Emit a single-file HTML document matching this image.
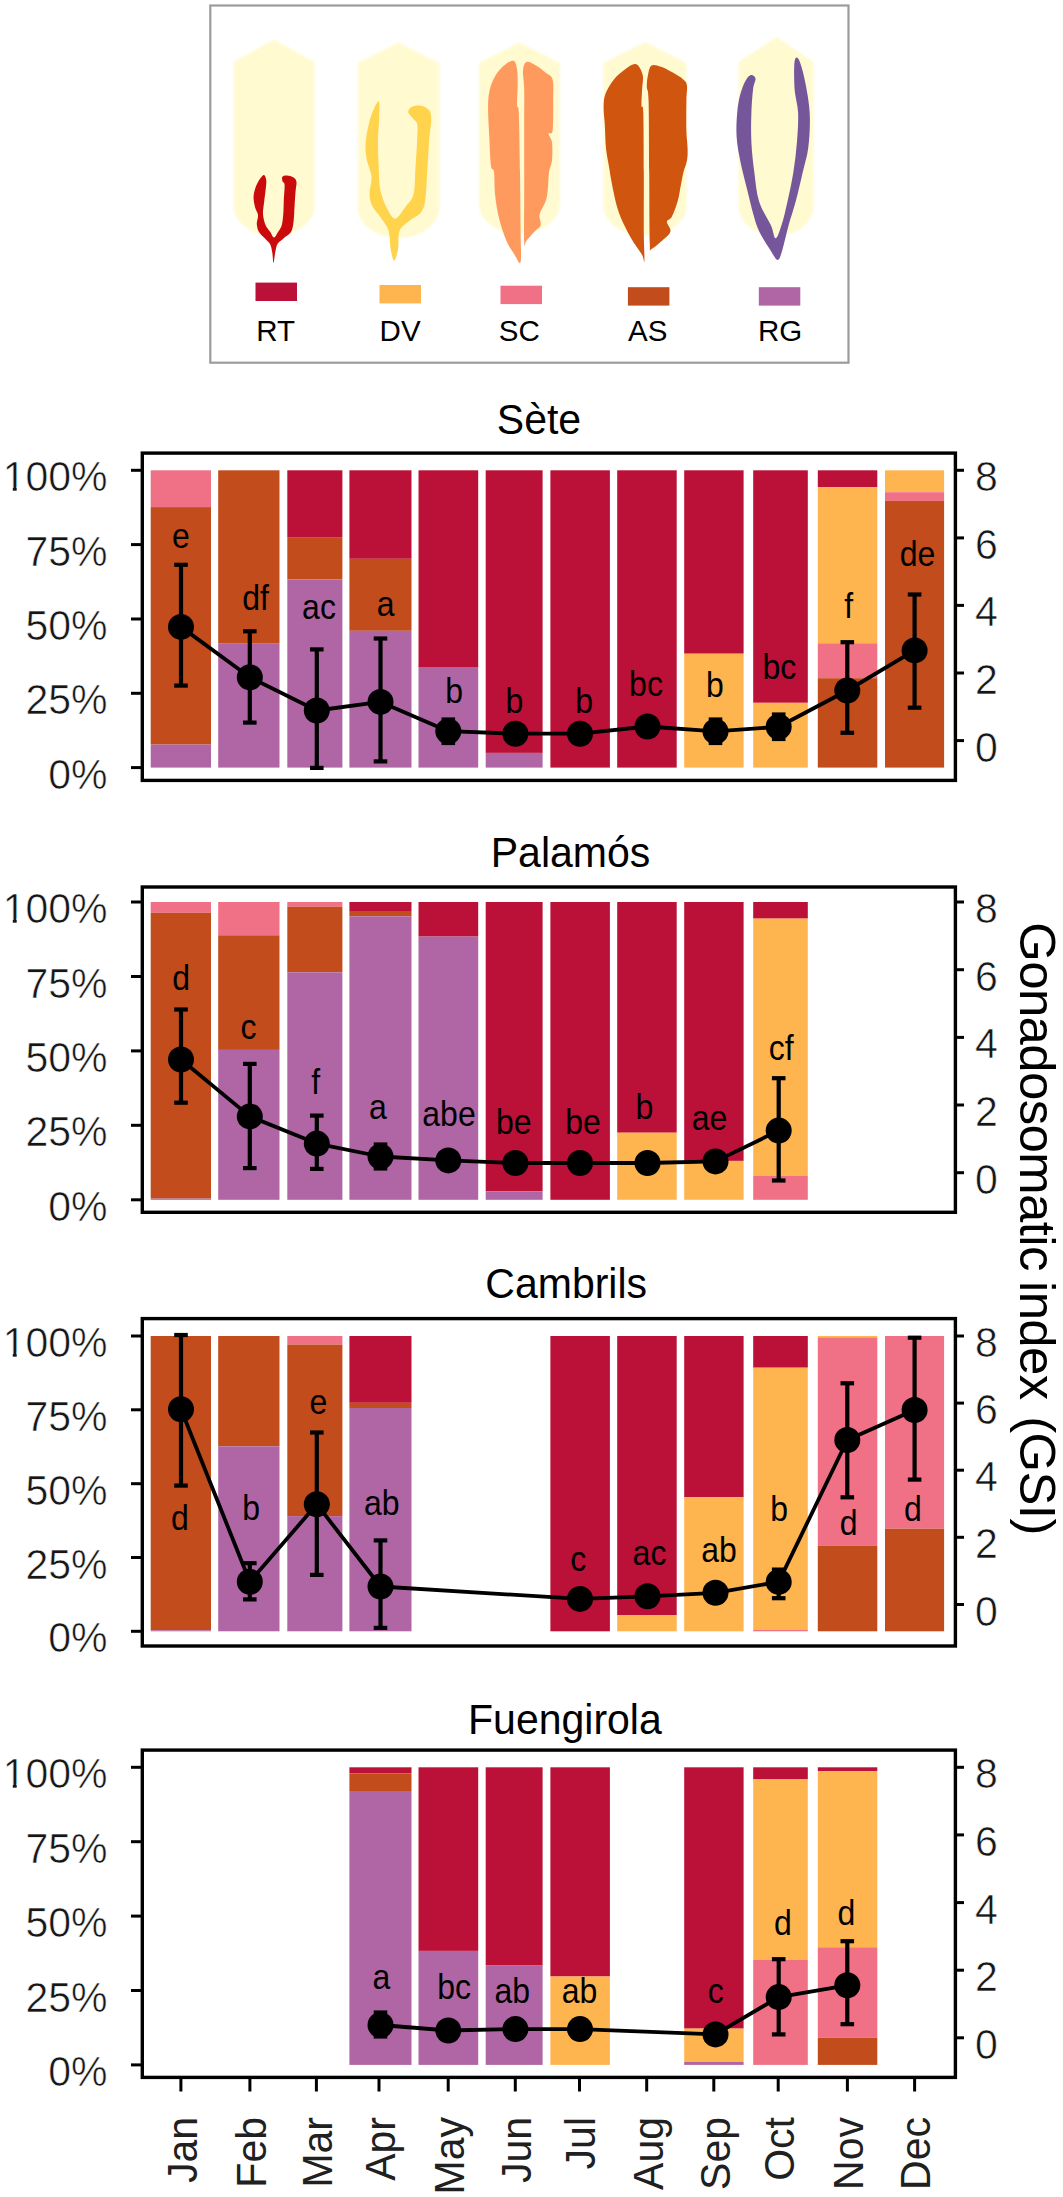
<!DOCTYPE html>
<html><head><meta charset="utf-8"><style>
html,body{margin:0;padding:0;background:#fff;}
svg{display:block;}
text{font-family:"Liberation Sans", sans-serif;}
.tk{fill:#161616;stroke:#fff;stroke-width:0.55px;}
.xl{fill:#202020;}
</style></head><body>
<svg width="1063" height="2197" viewBox="0 0 1063 2197">
<defs><filter id="soft" x="-10%" y="-10%" width="120%" height="120%"><feGaussianBlur stdDeviation="1.2"/></filter></defs>

<rect x="210.3" y="5.5" width="638.2" height="357.2" fill="#fff" stroke="#9c9c9c" stroke-width="2.2"/>
<g filter="url(#soft)">
<path d="M273.8 39.5 L314.5 62 L314.5 206 C314.5 222 296.185 236 273.8 236 C251.635 236 233.5 222 233.5 206 L233.5 62 Z" fill="#FFFAD0"/>
<path d="M398.6 42.5 L439.4 63 L439.4 208 C439.4 224 421.04 238 398.6 238 C376.16 238 357.8 224 357.8 208 L357.8 63 Z" fill="#FFFAD0"/>
<path d="M519.5 42.5 L559.7 63 L559.7 204 C559.7 220 541.61 234 519.5 234 C497.225 234 479.0 220 479.0 204 L479.0 63 Z" fill="#FFFAD0"/>
<path d="M645.3 42.0 L686.5 63 L686.5 206 C686.5 222 667.96 236 645.3 236 C622.31 236 603.5 222 603.5 206 L603.5 63 Z" fill="#FFFAD0"/>
<path d="M776.8 37.0 L813.5 62 L813.5 206 C813.5 222 796.985 236 776.8 236 C755.735 236 738.5 222 738.5 206 L738.5 62 Z" fill="#FFFAD0"/>
</g>
<path d="M263.5 175.0 C262.0 175.7 258.6 180.5 257.0 184.0 C255.3 187.5 253.9 192.2 253.6 196.0 C253.3 199.8 254.3 203.8 255.0 207.0 C255.7 210.2 257.7 212.2 258.0 215.0 C258.3 217.8 256.6 221.2 256.8 224.0 C257.0 226.8 257.6 229.6 259.0 232.0 C260.4 234.4 263.2 236.5 265.0 238.5 C266.8 240.5 268.8 241.8 270.0 244.0 C271.2 246.2 271.6 248.8 272.2 252.0 C272.8 255.2 273.0 263.0 273.5 263.0 C274.0 263.0 274.6 255.2 275.3 252.0 C276.0 248.8 276.1 246.3 277.5 244.0 C278.9 241.7 281.8 240.0 284.0 238.0 C286.2 236.0 289.4 234.7 291.0 232.0 C292.6 229.3 292.9 226.2 293.5 222.0 C294.1 217.8 294.2 212.0 294.5 207.0 C294.8 202.0 295.2 196.2 295.5 192.0 C295.8 187.8 296.8 184.4 296.5 182.0 C296.2 179.6 295.1 178.6 293.5 177.5 C291.9 176.4 288.9 175.7 287.0 175.6 C285.1 175.5 283.0 176.0 282.3 177.0 C281.6 178.0 282.2 180.2 282.6 181.5 C283.0 182.8 284.4 181.9 284.6 185.0 C284.8 188.1 284.0 195.0 283.8 200.0 C283.6 205.0 283.6 210.7 283.2 215.0 C282.8 219.3 282.4 223.2 281.5 226.0 C280.6 228.8 279.2 230.1 278.0 232.0 C276.8 233.9 275.3 237.5 274.0 237.5 C272.7 237.5 271.7 234.1 270.3 232.0 C268.9 229.9 266.7 228.0 265.5 225.0 C264.3 222.0 263.2 217.7 263.0 214.0 C262.8 210.3 263.6 207.0 264.0 203.0 C264.4 199.0 265.2 193.8 265.6 190.0 C266.0 186.2 266.6 182.5 266.2 180.0 C265.8 177.5 265.0 174.3 263.5 175.0 Z" fill="#CB0A0C"/>
<path d="M378.6 101.3 C377.2 101.3 373.1 109.8 371.0 116.3 C368.9 122.8 366.6 133.4 365.9 140.4 C365.1 147.4 365.6 152.5 366.5 158.5 C367.4 164.5 371.0 170.5 371.5 176.5 C372.0 182.5 369.3 189.6 369.5 194.6 C369.7 199.6 370.6 202.6 372.6 206.6 C374.6 210.6 378.9 214.7 381.6 218.7 C384.3 222.7 387.1 225.7 388.6 230.7 C390.1 235.7 389.7 243.8 390.6 248.8 C391.5 253.8 392.9 260.8 394.2 260.8 C395.4 260.8 397.2 253.8 398.1 248.8 C399.0 243.8 397.6 235.5 399.6 230.7 C401.6 225.9 406.7 223.2 410.2 220.2 C413.7 217.2 418.2 216.0 420.7 212.7 C423.2 209.4 424.1 207.6 425.2 200.6 C426.3 193.6 426.6 180.5 427.3 170.5 C428.0 160.5 428.5 148.9 429.1 140.4 C429.8 131.9 431.2 124.3 431.2 119.3 C431.2 114.3 430.9 112.5 429.1 110.3 C427.4 108.0 423.6 106.3 420.7 105.8 C417.8 105.2 413.8 105.9 411.7 107.0 C409.6 108.1 407.9 110.3 408.2 112.3 C408.5 114.3 412.0 117.0 413.5 119.0 C415.0 121.0 416.7 120.9 417.3 124.5 C417.9 128.1 417.4 132.7 417.1 140.4 C416.8 148.1 415.9 161.5 415.3 170.5 C414.7 179.5 415.1 188.6 413.5 194.6 C411.9 200.6 408.8 202.6 405.7 206.6 C402.6 210.6 398.4 218.7 395.1 218.7 C391.8 218.7 388.6 211.6 386.1 206.6 C383.6 201.6 381.4 195.6 380.1 188.6 C378.9 181.6 379.0 172.5 378.6 164.5 C378.2 156.5 377.9 148.4 378.0 140.4 C378.1 132.4 379.1 122.8 379.2 116.3 C379.3 109.8 380.0 101.3 378.6 101.3 Z" fill="#FFD44C"/>
<path d="M513.5 60.8 C511.3 60.2 506.9 63.1 504.0 65.5 C501.1 67.9 498.2 71.0 495.8 75.0 C493.4 79.0 491.2 83.9 489.9 89.2 C488.6 94.5 488.2 99.0 488.1 106.9 C488.0 114.8 488.8 126.6 489.3 136.5 C489.8 146.4 490.2 160.2 491.0 166.1 C491.8 172.0 493.3 167.1 494.0 172.0 C494.7 176.9 494.3 187.8 495.2 195.7 C496.1 203.6 497.4 211.8 499.3 219.3 C501.2 226.8 503.8 234.8 506.4 240.7 C509.0 246.6 512.3 251.3 514.7 254.9 C517.1 258.4 519.6 265.9 520.6 262.0 C521.6 258.1 520.7 246.2 520.6 231.2 C520.5 216.2 520.3 191.7 520.0 172.0 C519.7 152.3 519.3 123.8 518.8 112.8 C518.3 101.8 517.3 110.6 517.1 105.7 C516.9 100.8 517.7 89.4 517.7 83.3 C517.7 77.2 517.7 72.8 517.0 69.0 C516.3 65.2 515.7 61.4 513.5 60.8 Z" fill="#FF9A5E"/>
<path d="M526.5 62.0 C528.7 61.2 532.8 63.7 536.0 65.5 C539.2 67.3 542.7 70.2 545.5 72.6 C548.3 75.0 551.3 75.0 552.6 79.7 C553.9 84.4 553.2 92.5 553.2 101.0 C553.2 109.5 553.4 125.2 552.6 130.6 C551.8 136.0 548.6 131.5 548.5 133.5 C548.4 135.5 551.4 138.0 552.0 142.4 C552.6 146.8 552.5 155.3 552.0 160.2 C551.5 165.1 549.7 167.1 549.0 172.0 C548.3 176.9 548.4 184.9 547.8 189.8 C547.2 194.7 546.9 197.5 545.5 201.6 C544.1 205.7 540.4 210.6 539.6 214.6 C538.8 218.6 541.5 222.5 540.7 225.3 C539.9 228.1 537.2 228.6 534.8 231.2 C532.4 233.8 528.3 238.7 526.5 240.7 C524.7 242.7 524.6 250.5 524.2 243.0 C523.8 235.5 524.2 215.4 524.2 195.7 C524.2 176.0 524.2 142.4 524.2 124.7 C524.2 107.0 524.4 98.3 524.2 89.2 C524.0 80.1 522.6 74.7 523.0 70.2 C523.4 65.7 524.3 62.8 526.5 62.0 Z" fill="#FF9A5E"/>
<path d="M636.2 64.3 C633.3 63.3 629.2 66.4 625.5 69.0 C621.8 71.6 617.1 75.5 613.7 79.7 C610.4 83.9 607.1 89.4 605.4 93.9 C603.7 98.4 603.7 101.8 603.6 106.9 C603.5 112.0 604.4 117.8 604.8 124.7 C605.2 131.6 605.3 141.4 606.0 148.3 C606.7 155.2 607.9 160.2 608.9 166.1 C609.9 172.0 610.5 176.9 611.9 183.8 C613.3 190.7 615.1 200.6 617.2 207.5 C619.3 214.4 621.7 219.8 624.3 225.3 C626.9 230.8 629.6 235.8 632.6 240.7 C635.6 245.6 640.1 251.6 642.1 254.9 C644.1 258.2 644.1 264.8 644.4 260.8 C644.7 256.9 643.9 246.0 643.8 231.2 C643.7 216.4 643.9 191.7 643.8 172.0 C643.7 152.3 643.7 123.8 643.3 112.8 C642.9 101.8 641.7 109.6 641.5 105.7 C641.3 101.8 641.9 94.3 642.1 89.2 C642.3 84.1 643.7 79.2 642.7 75.0 C641.7 70.8 639.1 65.3 636.2 64.3 Z" fill="#D0560F"/>
<path d="M651.5 65.5 C653.7 64.1 657.5 65.5 661.0 66.7 C664.5 67.9 669.0 70.4 672.8 72.6 C676.5 74.8 681.1 77.5 683.5 79.7 C685.9 81.9 686.5 82.0 687.0 85.6 C687.5 89.1 686.5 93.5 686.4 101.0 C686.3 108.5 686.2 122.7 686.4 130.6 C686.6 138.5 687.5 143.4 687.6 148.3 C687.7 153.2 687.7 156.2 687.0 160.2 C686.3 164.1 684.5 168.1 683.5 172.0 C682.5 175.9 682.1 178.9 681.1 183.8 C680.1 188.7 679.2 196.1 677.6 201.6 C676.0 207.1 673.5 213.7 671.7 217.0 C669.9 220.3 667.1 219.3 666.9 221.7 C666.7 224.1 671.1 228.2 670.5 231.2 C669.9 234.2 666.6 236.6 663.4 239.5 C660.2 242.4 653.8 248.3 651.5 248.9 C649.2 249.5 650.2 255.8 649.8 243.0 C649.4 230.2 649.4 195.7 649.2 172.0 C649.0 148.3 649.0 115.2 648.6 101.0 C648.2 86.8 646.9 91.1 646.8 86.8 C646.7 82.5 647.2 78.5 648.0 75.0 C648.8 71.5 649.3 66.9 651.5 65.5 Z" fill="#D0560F"/>
<path d="M750.8 75.0 C749.1 75.4 747.2 77.6 745.4 80.9 C743.6 84.2 741.5 89.8 740.1 95.1 C738.7 100.4 737.8 105.9 737.2 112.8 C736.6 119.7 736.1 128.6 736.6 136.5 C737.1 144.4 738.3 151.3 740.1 160.2 C741.9 169.1 745.0 180.9 747.2 189.8 C749.4 198.7 751.1 206.5 753.1 213.4 C755.1 220.3 756.2 225.0 759.1 231.2 C762.0 237.4 767.5 245.7 770.6 250.5 C773.7 255.3 775.7 260.0 777.6 260.0 C779.5 260.0 780.4 256.3 782.2 250.5 C784.0 244.7 786.4 233.5 788.6 225.3 C790.9 217.2 793.3 210.5 795.7 201.6 C798.1 192.7 800.7 180.9 802.8 172.0 C804.9 163.1 807.0 157.2 808.2 148.3 C809.4 139.4 810.0 127.7 809.9 118.8 C809.8 109.9 808.8 103.0 807.6 95.1 C806.4 87.2 804.4 77.5 802.8 71.4 C801.2 65.3 799.5 60.0 798.1 58.4 C796.7 56.8 795.1 56.9 794.5 62.0 C793.9 67.1 794.0 80.7 794.6 89.2 C795.2 97.7 797.7 103.9 798.1 112.8 C798.5 121.7 797.7 132.5 796.9 142.4 C796.1 152.3 795.0 162.1 793.4 172.0 C791.8 181.9 789.5 192.7 787.5 201.6 C785.5 210.5 783.5 219.2 781.5 225.3 C779.5 231.4 777.4 238.3 775.6 238.3 C773.8 238.3 773.6 231.4 770.9 225.3 C768.1 219.2 761.9 210.5 759.1 201.6 C756.3 192.7 755.6 181.9 754.3 172.0 C753.0 162.1 751.9 152.3 751.4 142.4 C750.9 132.5 751.1 121.7 751.4 112.8 C751.7 103.9 752.4 94.9 753.1 89.2 C753.8 83.5 755.9 80.9 755.5 78.5 C755.1 76.1 752.5 74.6 750.8 75.0 Z" fill="#76569B"/>
<rect x="255.5" y="282.6" width="41.5" height="18.4" fill="#BB1037"/>
<rect x="379.5" y="285.0" width="41.5" height="18.4" fill="#FFB54F"/>
<rect x="500.5" y="285.7" width="41.5" height="18.4" fill="#F07186"/>
<rect x="627.9" y="287.2" width="41.5" height="18.4" fill="#C24C1B"/>
<rect x="758.8" y="287.2" width="41.5" height="18.4" fill="#B066A5"/>
<text x="275.7" y="341.2" font-size="29.5" text-anchor="middle" fill="#000">RT</text>
<text x="400.1" y="341.2" font-size="29.5" text-anchor="middle" fill="#000">DV</text>
<text x="519.3" y="341.2" font-size="29.5" text-anchor="middle" fill="#000">SC</text>
<text x="647.7" y="341.2" font-size="29.5" text-anchor="middle" fill="#000">AS</text>
<text x="780.0" y="341.2" font-size="29.5" text-anchor="middle" fill="#000">RG</text>
<text transform="translate(539.0,434.3) scale(1,1.03)" font-size="41" text-anchor="middle" fill="#000">Sète</text>
<rect x="150.7" y="470.3" width="60.3" height="36.8" fill="#F07186"/>
<rect x="150.7" y="507.1" width="60.3" height="237.5" fill="#C24C1B"/>
<rect x="150.7" y="744.6" width="60.3" height="23.0" fill="#B066A5"/>
<rect x="218.2" y="470.3" width="61.3" height="173.4" fill="#C24C1B"/>
<rect x="218.2" y="643.7" width="61.3" height="123.9" fill="#B066A5"/>
<rect x="287.3" y="470.3" width="55.1" height="66.8" fill="#BB1037"/>
<rect x="287.3" y="537.1" width="55.1" height="42.4" fill="#C24C1B"/>
<rect x="287.3" y="579.5" width="55.1" height="188.1" fill="#B066A5"/>
<rect x="349.4" y="470.3" width="62.1" height="88.5" fill="#BB1037"/>
<rect x="349.4" y="558.8" width="62.1" height="72.0" fill="#C24C1B"/>
<rect x="349.4" y="630.8" width="62.1" height="136.8" fill="#B066A5"/>
<rect x="418.5" y="470.3" width="59.7" height="196.7" fill="#BB1037"/>
<rect x="418.5" y="667.0" width="59.7" height="100.6" fill="#B066A5"/>
<rect x="485.7" y="470.3" width="56.9" height="282.6" fill="#BB1037"/>
<rect x="485.7" y="752.9" width="56.9" height="14.7" fill="#B066A5"/>
<rect x="550.4" y="470.3" width="59.5" height="297.3" fill="#BB1037"/>
<rect x="617.2" y="470.3" width="59.5" height="297.3" fill="#BB1037"/>
<rect x="684.2" y="470.3" width="59.4" height="183.4" fill="#BB1037"/>
<rect x="684.2" y="653.7" width="59.4" height="113.9" fill="#FFB54F"/>
<rect x="753.2" y="470.3" width="54.6" height="232.5" fill="#BB1037"/>
<rect x="753.2" y="702.8" width="54.6" height="64.8" fill="#FFB54F"/>
<rect x="817.8" y="470.3" width="59.5" height="17.0" fill="#BB1037"/>
<rect x="817.8" y="487.3" width="59.5" height="156.0" fill="#FFB54F"/>
<rect x="817.8" y="643.3" width="59.5" height="34.9" fill="#F07186"/>
<rect x="817.8" y="678.2" width="59.5" height="89.4" fill="#C24C1B"/>
<rect x="885.0" y="470.3" width="59.1" height="21.9" fill="#FFB54F"/>
<rect x="885.0" y="492.2" width="59.1" height="8.7" fill="#F07186"/>
<rect x="885.0" y="500.9" width="59.1" height="266.7" fill="#C24C1B"/>
<rect x="142.3" y="453.1" width="813.1" height="327.3" fill="none" stroke="#000" stroke-width="3.4"/>
<line x1="131" y1="470.3" x2="142.3" y2="470.3" stroke="#000" stroke-width="3"/>
<text transform="translate(107.5,491.3) scale(1,1.055)" class="tk" font-size="41" text-anchor="end">100%</text>
<rect x="4.5" y="486.9" width="8.3" height="5.4" fill="#fff"/>
<rect x="16.7" y="486.9" width="8" height="5.4" fill="#fff"/>
<line x1="131" y1="544.6" x2="142.3" y2="544.6" stroke="#000" stroke-width="3"/>
<text transform="translate(107.5,565.6) scale(1,1.055)" class="tk" font-size="41" text-anchor="end">75%</text>
<line x1="131" y1="619.0" x2="142.3" y2="619.0" stroke="#000" stroke-width="3"/>
<text transform="translate(107.5,640.0) scale(1,1.055)" class="tk" font-size="41" text-anchor="end">50%</text>
<line x1="131" y1="693.3" x2="142.3" y2="693.3" stroke="#000" stroke-width="3"/>
<text transform="translate(107.5,714.3) scale(1,1.055)" class="tk" font-size="41" text-anchor="end">25%</text>
<line x1="131" y1="767.6" x2="142.3" y2="767.6" stroke="#000" stroke-width="3"/>
<text transform="translate(107.5,788.6) scale(1,1.055)" class="tk" font-size="41" text-anchor="end">0%</text>
<line x1="955.4" y1="470.3" x2="964" y2="470.3" stroke="#000" stroke-width="3"/>
<text transform="translate(975,491.3) scale(1,1.055)" class="tk" font-size="41">8</text>
<line x1="955.4" y1="537.9" x2="964" y2="537.9" stroke="#000" stroke-width="3"/>
<text transform="translate(975,558.9) scale(1,1.055)" class="tk" font-size="41">6</text>
<line x1="955.4" y1="605.4" x2="964" y2="605.4" stroke="#000" stroke-width="3"/>
<text transform="translate(975,626.4) scale(1,1.055)" class="tk" font-size="41">4</text>
<line x1="955.4" y1="673.0" x2="964" y2="673.0" stroke="#000" stroke-width="3"/>
<text transform="translate(975,694.0) scale(1,1.055)" class="tk" font-size="41">2</text>
<line x1="955.4" y1="740.6" x2="964" y2="740.6" stroke="#000" stroke-width="3"/>
<text transform="translate(975,761.6) scale(1,1.055)" class="tk" font-size="41">0</text>
<text transform="translate(181.0,547.5) scale(1,1.08)" font-size="32" text-anchor="middle" fill="#000">e</text>
<text transform="translate(255.6,609.6) scale(1,1.08)" font-size="32" text-anchor="middle" fill="#000">df</text>
<text transform="translate(319.0,618.6) scale(1,1.08)" font-size="32" text-anchor="middle" fill="#000">ac</text>
<text transform="translate(385.6,616.0) scale(1,1.08)" font-size="32" text-anchor="middle" fill="#000">a</text>
<text transform="translate(454.2,702.7) scale(1,1.08)" font-size="32" text-anchor="middle" fill="#000">b</text>
<text transform="translate(514.3,713.1) scale(1,1.08)" font-size="32" text-anchor="middle" fill="#000">b</text>
<text transform="translate(584.1,713.1) scale(1,1.08)" font-size="32" text-anchor="middle" fill="#000">b</text>
<text transform="translate(646.0,696.2) scale(1,1.08)" font-size="32" text-anchor="middle" fill="#000">bc</text>
<text transform="translate(715.0,696.8) scale(1,1.08)" font-size="32" text-anchor="middle" fill="#000">b</text>
<text transform="translate(779.4,679.0) scale(1,1.08)" font-size="32" text-anchor="middle" fill="#000">bc</text>
<text transform="translate(848.7,617.6) scale(1,1.08)" font-size="32" text-anchor="middle" fill="#000">f</text>
<text transform="translate(917.6,565.8) scale(1,1.08)" font-size="32" text-anchor="middle" fill="#000">de</text>
<polyline points="181.0,626.9 249.8,677.3 316.8,710.5 380.5,701.9 448.3,731.2 515.4,733.7 580.0,733.7 647.5,726.5 715.5,731.4 778.7,726.8 847.3,690.5 914.6,650.4" fill="none" stroke="#000" stroke-width="3.8" stroke-linejoin="round"/>
<line x1="181.0" y1="564.8" x2="181.0" y2="685.6" stroke="#000" stroke-width="4.2"/>
<line x1="174.2" y1="564.8" x2="187.8" y2="564.8" stroke="#000" stroke-width="4.2"/>
<line x1="174.2" y1="685.6" x2="187.8" y2="685.6" stroke="#000" stroke-width="4.2"/>
<circle cx="181.0" cy="626.9" r="13" fill="#000"/>
<line x1="249.8" y1="631.3" x2="249.8" y2="722.6" stroke="#000" stroke-width="4.2"/>
<line x1="243.0" y1="631.3" x2="256.6" y2="631.3" stroke="#000" stroke-width="4.2"/>
<line x1="243.0" y1="722.6" x2="256.6" y2="722.6" stroke="#000" stroke-width="4.2"/>
<circle cx="249.8" cy="677.3" r="13" fill="#000"/>
<line x1="316.8" y1="649.4" x2="316.8" y2="767.9" stroke="#000" stroke-width="4.2"/>
<line x1="310.0" y1="649.4" x2="323.6" y2="649.4" stroke="#000" stroke-width="4.2"/>
<line x1="310.0" y1="767.9" x2="323.6" y2="767.9" stroke="#000" stroke-width="4.2"/>
<circle cx="316.8" cy="710.5" r="13" fill="#000"/>
<line x1="380.5" y1="638.5" x2="380.5" y2="761.4" stroke="#000" stroke-width="4.2"/>
<line x1="373.7" y1="638.5" x2="387.3" y2="638.5" stroke="#000" stroke-width="4.2"/>
<line x1="373.7" y1="761.4" x2="387.3" y2="761.4" stroke="#000" stroke-width="4.2"/>
<circle cx="380.5" cy="701.9" r="13" fill="#000"/>
<line x1="448.3" y1="719.5" x2="448.3" y2="743.0" stroke="#000" stroke-width="4.2"/>
<line x1="441.5" y1="719.5" x2="455.1" y2="719.5" stroke="#000" stroke-width="4.2"/>
<line x1="441.5" y1="743.0" x2="455.1" y2="743.0" stroke="#000" stroke-width="4.2"/>
<circle cx="448.3" cy="731.2" r="13" fill="#000"/>
<circle cx="515.4" cy="733.7" r="13" fill="#000"/>
<circle cx="580.0" cy="733.7" r="13" fill="#000"/>
<circle cx="647.5" cy="726.5" r="13" fill="#000"/>
<line x1="715.5" y1="719.5" x2="715.5" y2="743.0" stroke="#000" stroke-width="4.2"/>
<line x1="708.7" y1="719.5" x2="722.3" y2="719.5" stroke="#000" stroke-width="4.2"/>
<line x1="708.7" y1="743.0" x2="722.3" y2="743.0" stroke="#000" stroke-width="4.2"/>
<circle cx="715.5" cy="731.4" r="13" fill="#000"/>
<line x1="778.7" y1="714.5" x2="778.7" y2="739.0" stroke="#000" stroke-width="4.2"/>
<line x1="771.9000000000001" y1="714.5" x2="785.5" y2="714.5" stroke="#000" stroke-width="4.2"/>
<line x1="771.9000000000001" y1="739.0" x2="785.5" y2="739.0" stroke="#000" stroke-width="4.2"/>
<circle cx="778.7" cy="726.8" r="13" fill="#000"/>
<line x1="847.3" y1="642.2" x2="847.3" y2="732.8" stroke="#000" stroke-width="4.2"/>
<line x1="840.5" y1="642.2" x2="854.0999999999999" y2="642.2" stroke="#000" stroke-width="4.2"/>
<line x1="840.5" y1="732.8" x2="854.0999999999999" y2="732.8" stroke="#000" stroke-width="4.2"/>
<circle cx="847.3" cy="690.5" r="13" fill="#000"/>
<line x1="914.6" y1="594.5" x2="914.6" y2="707.7" stroke="#000" stroke-width="4.2"/>
<line x1="907.8000000000001" y1="594.5" x2="921.4" y2="594.5" stroke="#000" stroke-width="4.2"/>
<line x1="907.8000000000001" y1="707.7" x2="921.4" y2="707.7" stroke="#000" stroke-width="4.2"/>
<circle cx="914.6" cy="650.4" r="13" fill="#000"/>
<text transform="translate(570.5,866.5) scale(1,1.03)" font-size="41" text-anchor="middle" fill="#000">Palamós</text>
<rect x="150.7" y="902.0" width="60.3" height="10.8" fill="#F07186"/>
<rect x="150.7" y="912.8" width="60.3" height="285.8" fill="#C24C1B"/>
<rect x="150.7" y="1198.6" width="60.3" height="1.2" fill="#B066A5"/>
<rect x="218.2" y="902.0" width="61.3" height="33.3" fill="#F07186"/>
<rect x="218.2" y="935.3" width="61.3" height="114.6" fill="#C24C1B"/>
<rect x="218.2" y="1049.9" width="61.3" height="149.9" fill="#B066A5"/>
<rect x="287.3" y="902.0" width="55.1" height="4.8" fill="#F07186"/>
<rect x="287.3" y="906.8" width="55.1" height="65.5" fill="#C24C1B"/>
<rect x="287.3" y="972.3" width="55.1" height="227.5" fill="#B066A5"/>
<rect x="349.4" y="902.0" width="62.1" height="9.0" fill="#BB1037"/>
<rect x="349.4" y="911.0" width="62.1" height="5.3" fill="#C24C1B"/>
<rect x="349.4" y="916.3" width="62.1" height="283.5" fill="#B066A5"/>
<rect x="418.5" y="902.0" width="59.7" height="34.6" fill="#BB1037"/>
<rect x="418.5" y="936.6" width="59.7" height="263.2" fill="#B066A5"/>
<rect x="485.7" y="902.0" width="56.9" height="289.4" fill="#BB1037"/>
<rect x="485.7" y="1191.4" width="56.9" height="8.4" fill="#B066A5"/>
<rect x="550.4" y="902.0" width="59.5" height="297.8" fill="#BB1037"/>
<rect x="617.2" y="902.0" width="59.5" height="230.7" fill="#BB1037"/>
<rect x="617.2" y="1132.7" width="59.5" height="67.1" fill="#FFB54F"/>
<rect x="684.2" y="902.0" width="59.4" height="258.9" fill="#BB1037"/>
<rect x="684.2" y="1160.9" width="59.4" height="38.9" fill="#FFB54F"/>
<rect x="753.2" y="902.0" width="54.6" height="16.6" fill="#BB1037"/>
<rect x="753.2" y="918.6" width="54.6" height="257.3" fill="#FFB54F"/>
<rect x="753.2" y="1175.9" width="54.6" height="23.9" fill="#F07186"/>
<rect x="142.3" y="887.0" width="813.1" height="325.3" fill="none" stroke="#000" stroke-width="3.4"/>
<line x1="131" y1="902.0" x2="142.3" y2="902.0" stroke="#000" stroke-width="3"/>
<text transform="translate(107.5,923.0) scale(1,1.055)" class="tk" font-size="41" text-anchor="end">100%</text>
<rect x="4.5" y="918.6" width="8.3" height="5.4" fill="#fff"/>
<rect x="16.7" y="918.6" width="8" height="5.4" fill="#fff"/>
<line x1="131" y1="976.5" x2="142.3" y2="976.5" stroke="#000" stroke-width="3"/>
<text transform="translate(107.5,997.5) scale(1,1.055)" class="tk" font-size="41" text-anchor="end">75%</text>
<line x1="131" y1="1050.9" x2="142.3" y2="1050.9" stroke="#000" stroke-width="3"/>
<text transform="translate(107.5,1071.9) scale(1,1.055)" class="tk" font-size="41" text-anchor="end">50%</text>
<line x1="131" y1="1125.3" x2="142.3" y2="1125.3" stroke="#000" stroke-width="3"/>
<text transform="translate(107.5,1146.3) scale(1,1.055)" class="tk" font-size="41" text-anchor="end">25%</text>
<line x1="131" y1="1199.8" x2="142.3" y2="1199.8" stroke="#000" stroke-width="3"/>
<text transform="translate(107.5,1220.8) scale(1,1.055)" class="tk" font-size="41" text-anchor="end">0%</text>
<line x1="955.4" y1="902.0" x2="964" y2="902.0" stroke="#000" stroke-width="3"/>
<text transform="translate(975,923.0) scale(1,1.055)" class="tk" font-size="41">8</text>
<line x1="955.4" y1="969.7" x2="964" y2="969.7" stroke="#000" stroke-width="3"/>
<text transform="translate(975,990.7) scale(1,1.055)" class="tk" font-size="41">6</text>
<line x1="955.4" y1="1037.4" x2="964" y2="1037.4" stroke="#000" stroke-width="3"/>
<text transform="translate(975,1058.4) scale(1,1.055)" class="tk" font-size="41">4</text>
<line x1="955.4" y1="1105.0" x2="964" y2="1105.0" stroke="#000" stroke-width="3"/>
<text transform="translate(975,1126.0) scale(1,1.055)" class="tk" font-size="41">2</text>
<line x1="955.4" y1="1172.7" x2="964" y2="1172.7" stroke="#000" stroke-width="3"/>
<text transform="translate(975,1193.7) scale(1,1.055)" class="tk" font-size="41">0</text>
<text transform="translate(181.2,990.4) scale(1,1.08)" font-size="32" text-anchor="middle" fill="#000">d</text>
<text transform="translate(248.5,1038.8) scale(1,1.08)" font-size="32" text-anchor="middle" fill="#000">c</text>
<text transform="translate(315.8,1093.9) scale(1,1.08)" font-size="32" text-anchor="middle" fill="#000">f</text>
<text transform="translate(377.9,1118.5) scale(1,1.08)" font-size="32" text-anchor="middle" fill="#000">a</text>
<text transform="translate(449.0,1126.2) scale(1,1.08)" font-size="32" text-anchor="middle" fill="#000">abe</text>
<text transform="translate(513.7,1134.0) scale(1,1.08)" font-size="32" text-anchor="middle" fill="#000">be</text>
<text transform="translate(583.0,1133.8) scale(1,1.08)" font-size="32" text-anchor="middle" fill="#000">be</text>
<text transform="translate(644.3,1118.5) scale(1,1.08)" font-size="32" text-anchor="middle" fill="#000">b</text>
<text transform="translate(709.6,1129.5) scale(1,1.08)" font-size="32" text-anchor="middle" fill="#000">ae</text>
<text transform="translate(781.3,1059.9) scale(1,1.08)" font-size="32" text-anchor="middle" fill="#000">cf</text>
<polyline points="181.0,1059.5 249.8,1116.4 316.8,1143.6 380.5,1156.5 448.3,1160.4 515.4,1163.0 580.0,1163.0 647.5,1163.0 715.5,1161.4 778.7,1130.6" fill="none" stroke="#000" stroke-width="3.8" stroke-linejoin="round"/>
<line x1="181.0" y1="1009.5" x2="181.0" y2="1102.7" stroke="#000" stroke-width="4.2"/>
<line x1="174.2" y1="1009.5" x2="187.8" y2="1009.5" stroke="#000" stroke-width="4.2"/>
<line x1="174.2" y1="1102.7" x2="187.8" y2="1102.7" stroke="#000" stroke-width="4.2"/>
<circle cx="181.0" cy="1059.5" r="13" fill="#000"/>
<line x1="249.8" y1="1063.9" x2="249.8" y2="1168.1" stroke="#000" stroke-width="4.2"/>
<line x1="243.0" y1="1063.9" x2="256.6" y2="1063.9" stroke="#000" stroke-width="4.2"/>
<line x1="243.0" y1="1168.1" x2="256.6" y2="1168.1" stroke="#000" stroke-width="4.2"/>
<circle cx="249.8" cy="1116.4" r="13" fill="#000"/>
<line x1="316.8" y1="1115.6" x2="316.8" y2="1168.9" stroke="#000" stroke-width="4.2"/>
<line x1="310.0" y1="1115.6" x2="323.6" y2="1115.6" stroke="#000" stroke-width="4.2"/>
<line x1="310.0" y1="1168.9" x2="323.6" y2="1168.9" stroke="#000" stroke-width="4.2"/>
<circle cx="316.8" cy="1143.6" r="13" fill="#000"/>
<line x1="380.5" y1="1144.5" x2="380.5" y2="1168.5" stroke="#000" stroke-width="4.2"/>
<line x1="373.7" y1="1144.5" x2="387.3" y2="1144.5" stroke="#000" stroke-width="4.2"/>
<line x1="373.7" y1="1168.5" x2="387.3" y2="1168.5" stroke="#000" stroke-width="4.2"/>
<circle cx="380.5" cy="1156.5" r="13" fill="#000"/>
<circle cx="448.3" cy="1160.4" r="13" fill="#000"/>
<circle cx="515.4" cy="1163.0" r="13" fill="#000"/>
<circle cx="580.0" cy="1163.0" r="13" fill="#000"/>
<circle cx="647.5" cy="1163.0" r="13" fill="#000"/>
<circle cx="715.5" cy="1161.4" r="13" fill="#000"/>
<line x1="778.7" y1="1078.2" x2="778.7" y2="1180.5" stroke="#000" stroke-width="4.2"/>
<line x1="771.9000000000001" y1="1078.2" x2="785.5" y2="1078.2" stroke="#000" stroke-width="4.2"/>
<line x1="771.9000000000001" y1="1180.5" x2="785.5" y2="1180.5" stroke="#000" stroke-width="4.2"/>
<circle cx="778.7" cy="1130.6" r="13" fill="#000"/>
<text transform="translate(566.2,1297.5) scale(1,1.03)" font-size="41" text-anchor="middle" fill="#000">Cambrils</text>
<rect x="150.7" y="1336.0" width="60.3" height="294.3" fill="#C24C1B"/>
<rect x="150.7" y="1630.3" width="60.3" height="1.0" fill="#B066A5"/>
<rect x="218.2" y="1336.0" width="61.3" height="110.3" fill="#C24C1B"/>
<rect x="218.2" y="1446.3" width="61.3" height="185.0" fill="#B066A5"/>
<rect x="287.3" y="1336.0" width="55.1" height="8.6" fill="#F07186"/>
<rect x="287.3" y="1344.6" width="55.1" height="171.5" fill="#C24C1B"/>
<rect x="287.3" y="1516.1" width="55.1" height="115.2" fill="#B066A5"/>
<rect x="349.4" y="1336.0" width="62.1" height="66.8" fill="#BB1037"/>
<rect x="349.4" y="1402.8" width="62.1" height="5.2" fill="#C24C1B"/>
<rect x="349.4" y="1408.0" width="62.1" height="223.3" fill="#B066A5"/>
<rect x="550.4" y="1336.0" width="59.5" height="295.3" fill="#BB1037"/>
<rect x="617.2" y="1336.0" width="59.5" height="279.0" fill="#BB1037"/>
<rect x="617.2" y="1615.0" width="59.5" height="16.3" fill="#FFB54F"/>
<rect x="684.2" y="1336.0" width="59.4" height="161.3" fill="#BB1037"/>
<rect x="684.2" y="1497.3" width="59.4" height="134.0" fill="#FFB54F"/>
<rect x="753.2" y="1336.0" width="54.6" height="31.7" fill="#BB1037"/>
<rect x="753.2" y="1367.7" width="54.6" height="262.1" fill="#FFB54F"/>
<rect x="753.2" y="1629.8" width="54.6" height="1.5" fill="#F07186"/>
<rect x="817.8" y="1336.0" width="59.5" height="1.4" fill="#FFB54F"/>
<rect x="817.8" y="1337.4" width="59.5" height="208.5" fill="#F07186"/>
<rect x="817.8" y="1545.9" width="59.5" height="85.4" fill="#C24C1B"/>
<rect x="885.0" y="1336.0" width="59.1" height="192.7" fill="#F07186"/>
<rect x="885.0" y="1528.7" width="59.1" height="102.6" fill="#C24C1B"/>
<rect x="142.3" y="1318.6" width="813.1" height="327.4" fill="none" stroke="#000" stroke-width="3.4"/>
<line x1="131" y1="1336.0" x2="142.3" y2="1336.0" stroke="#000" stroke-width="3"/>
<text transform="translate(107.5,1357.0) scale(1,1.055)" class="tk" font-size="41" text-anchor="end">100%</text>
<rect x="4.5" y="1352.6" width="8.3" height="5.4" fill="#fff"/>
<rect x="16.7" y="1352.6" width="8" height="5.4" fill="#fff"/>
<line x1="131" y1="1409.8" x2="142.3" y2="1409.8" stroke="#000" stroke-width="3"/>
<text transform="translate(107.5,1430.8) scale(1,1.055)" class="tk" font-size="41" text-anchor="end">75%</text>
<line x1="131" y1="1483.7" x2="142.3" y2="1483.7" stroke="#000" stroke-width="3"/>
<text transform="translate(107.5,1504.7) scale(1,1.055)" class="tk" font-size="41" text-anchor="end">50%</text>
<line x1="131" y1="1557.5" x2="142.3" y2="1557.5" stroke="#000" stroke-width="3"/>
<text transform="translate(107.5,1578.5) scale(1,1.055)" class="tk" font-size="41" text-anchor="end">25%</text>
<line x1="131" y1="1631.3" x2="142.3" y2="1631.3" stroke="#000" stroke-width="3"/>
<text transform="translate(107.5,1652.3) scale(1,1.055)" class="tk" font-size="41" text-anchor="end">0%</text>
<line x1="955.4" y1="1336.0" x2="964" y2="1336.0" stroke="#000" stroke-width="3"/>
<text transform="translate(975,1357.0) scale(1,1.055)" class="tk" font-size="41">8</text>
<line x1="955.4" y1="1403.1" x2="964" y2="1403.1" stroke="#000" stroke-width="3"/>
<text transform="translate(975,1424.1) scale(1,1.055)" class="tk" font-size="41">6</text>
<line x1="955.4" y1="1470.2" x2="964" y2="1470.2" stroke="#000" stroke-width="3"/>
<text transform="translate(975,1491.2) scale(1,1.055)" class="tk" font-size="41">4</text>
<line x1="955.4" y1="1537.3" x2="964" y2="1537.3" stroke="#000" stroke-width="3"/>
<text transform="translate(975,1558.3) scale(1,1.055)" class="tk" font-size="41">2</text>
<line x1="955.4" y1="1604.5" x2="964" y2="1604.5" stroke="#000" stroke-width="3"/>
<text transform="translate(975,1625.5) scale(1,1.055)" class="tk" font-size="41">0</text>
<text transform="translate(179.9,1530.4) scale(1,1.08)" font-size="32" text-anchor="middle" fill="#000">d</text>
<text transform="translate(251.1,1519.5) scale(1,1.08)" font-size="32" text-anchor="middle" fill="#000">b</text>
<text transform="translate(318.3,1413.9) scale(1,1.08)" font-size="32" text-anchor="middle" fill="#000">e</text>
<text transform="translate(381.7,1514.8) scale(1,1.08)" font-size="32" text-anchor="middle" fill="#000">ab</text>
<text transform="translate(578.3,1570.5) scale(1,1.08)" font-size="32" text-anchor="middle" fill="#000">c</text>
<text transform="translate(649.5,1565.3) scale(1,1.08)" font-size="32" text-anchor="middle" fill="#000">ac</text>
<text transform="translate(719.1,1562.2) scale(1,1.08)" font-size="32" text-anchor="middle" fill="#000">ab</text>
<text transform="translate(779.1,1521.3) scale(1,1.08)" font-size="32" text-anchor="middle" fill="#000">b</text>
<text transform="translate(848.7,1534.9) scale(1,1.08)" font-size="32" text-anchor="middle" fill="#000">d</text>
<text transform="translate(912.8,1521.3) scale(1,1.08)" font-size="32" text-anchor="middle" fill="#000">d</text>
<polyline points="181.0,1409.3 249.8,1581.8 316.8,1504.2 380.5,1586.5 580.0,1598.9 647.5,1596.3 715.5,1592.8 778.7,1581.9 847.3,1440.0 914.6,1410.0" fill="none" stroke="#000" stroke-width="3.8" stroke-linejoin="round"/>
<line x1="181.0" y1="1335.0" x2="181.0" y2="1485.6" stroke="#000" stroke-width="4.2"/>
<line x1="174.2" y1="1335.0" x2="187.8" y2="1335.0" stroke="#000" stroke-width="4.2"/>
<line x1="174.2" y1="1485.6" x2="187.8" y2="1485.6" stroke="#000" stroke-width="4.2"/>
<circle cx="181.0" cy="1409.3" r="13" fill="#000"/>
<line x1="249.8" y1="1563.2" x2="249.8" y2="1599.4" stroke="#000" stroke-width="4.2"/>
<line x1="243.0" y1="1563.2" x2="256.6" y2="1563.2" stroke="#000" stroke-width="4.2"/>
<line x1="243.0" y1="1599.4" x2="256.6" y2="1599.4" stroke="#000" stroke-width="4.2"/>
<circle cx="249.8" cy="1581.8" r="13" fill="#000"/>
<line x1="316.8" y1="1432.5" x2="316.8" y2="1574.9" stroke="#000" stroke-width="4.2"/>
<line x1="310.0" y1="1432.5" x2="323.6" y2="1432.5" stroke="#000" stroke-width="4.2"/>
<line x1="310.0" y1="1574.9" x2="323.6" y2="1574.9" stroke="#000" stroke-width="4.2"/>
<circle cx="316.8" cy="1504.2" r="13" fill="#000"/>
<line x1="380.5" y1="1540.4" x2="380.5" y2="1627.9" stroke="#000" stroke-width="4.2"/>
<line x1="373.7" y1="1540.4" x2="387.3" y2="1540.4" stroke="#000" stroke-width="4.2"/>
<line x1="373.7" y1="1627.9" x2="387.3" y2="1627.9" stroke="#000" stroke-width="4.2"/>
<circle cx="380.5" cy="1586.5" r="13" fill="#000"/>
<circle cx="580.0" cy="1598.9" r="13" fill="#000"/>
<circle cx="647.5" cy="1596.3" r="13" fill="#000"/>
<circle cx="715.5" cy="1592.8" r="13" fill="#000"/>
<line x1="778.7" y1="1569.6" x2="778.7" y2="1598.2" stroke="#000" stroke-width="4.2"/>
<line x1="771.9000000000001" y1="1569.6" x2="785.5" y2="1569.6" stroke="#000" stroke-width="4.2"/>
<line x1="771.9000000000001" y1="1598.2" x2="785.5" y2="1598.2" stroke="#000" stroke-width="4.2"/>
<circle cx="778.7" cy="1581.9" r="13" fill="#000"/>
<line x1="847.3" y1="1383.3" x2="847.3" y2="1497.3" stroke="#000" stroke-width="4.2"/>
<line x1="840.5" y1="1383.3" x2="854.0999999999999" y2="1383.3" stroke="#000" stroke-width="4.2"/>
<line x1="840.5" y1="1497.3" x2="854.0999999999999" y2="1497.3" stroke="#000" stroke-width="4.2"/>
<circle cx="847.3" cy="1440.0" r="13" fill="#000"/>
<line x1="914.6" y1="1337.7" x2="914.6" y2="1479.6" stroke="#000" stroke-width="4.2"/>
<line x1="907.8000000000001" y1="1337.7" x2="921.4" y2="1337.7" stroke="#000" stroke-width="4.2"/>
<line x1="907.8000000000001" y1="1479.6" x2="921.4" y2="1479.6" stroke="#000" stroke-width="4.2"/>
<circle cx="914.6" cy="1410.0" r="13" fill="#000"/>
<text transform="translate(564.9,1733.5) scale(1,1.03)" font-size="41" text-anchor="middle" fill="#000">Fuengirola</text>
<rect x="349.4" y="1767.3" width="62.1" height="6.2" fill="#BB1037"/>
<rect x="349.4" y="1773.5" width="62.1" height="17.5" fill="#C24C1B"/>
<rect x="349.4" y="1791.0" width="62.1" height="273.9" fill="#B066A5"/>
<rect x="418.5" y="1767.3" width="59.7" height="183.6" fill="#BB1037"/>
<rect x="418.5" y="1950.9" width="59.7" height="114.0" fill="#B066A5"/>
<rect x="485.7" y="1767.3" width="56.9" height="198.3" fill="#BB1037"/>
<rect x="485.7" y="1965.6" width="56.9" height="99.3" fill="#B066A5"/>
<rect x="550.4" y="1767.3" width="59.5" height="209.2" fill="#BB1037"/>
<rect x="550.4" y="1976.5" width="59.5" height="88.4" fill="#FFB54F"/>
<rect x="684.2" y="1767.3" width="59.4" height="261.3" fill="#BB1037"/>
<rect x="684.2" y="2028.6" width="59.4" height="33.4" fill="#FFB54F"/>
<rect x="684.2" y="2062.0" width="59.4" height="2.9" fill="#B066A5"/>
<rect x="753.2" y="1767.3" width="54.6" height="12.1" fill="#BB1037"/>
<rect x="753.2" y="1779.4" width="54.6" height="180.5" fill="#FFB54F"/>
<rect x="753.2" y="1959.9" width="54.6" height="105.0" fill="#F07186"/>
<rect x="817.8" y="1767.3" width="59.5" height="4.0" fill="#BB1037"/>
<rect x="817.8" y="1771.3" width="59.5" height="176.0" fill="#FFB54F"/>
<rect x="817.8" y="1947.3" width="59.5" height="90.5" fill="#F07186"/>
<rect x="817.8" y="2037.8" width="59.5" height="27.1" fill="#C24C1B"/>
<rect x="142.3" y="1750.1" width="813.1" height="327.3" fill="none" stroke="#000" stroke-width="3.4"/>
<line x1="131" y1="1767.3" x2="142.3" y2="1767.3" stroke="#000" stroke-width="3"/>
<text transform="translate(107.5,1788.3) scale(1,1.055)" class="tk" font-size="41" text-anchor="end">100%</text>
<rect x="4.5" y="1783.9" width="8.3" height="5.4" fill="#fff"/>
<rect x="16.7" y="1783.9" width="8" height="5.4" fill="#fff"/>
<line x1="131" y1="1841.7" x2="142.3" y2="1841.7" stroke="#000" stroke-width="3"/>
<text transform="translate(107.5,1862.7) scale(1,1.055)" class="tk" font-size="41" text-anchor="end">75%</text>
<line x1="131" y1="1916.1" x2="142.3" y2="1916.1" stroke="#000" stroke-width="3"/>
<text transform="translate(107.5,1937.1) scale(1,1.055)" class="tk" font-size="41" text-anchor="end">50%</text>
<line x1="131" y1="1990.5" x2="142.3" y2="1990.5" stroke="#000" stroke-width="3"/>
<text transform="translate(107.5,2011.5) scale(1,1.055)" class="tk" font-size="41" text-anchor="end">25%</text>
<line x1="131" y1="2064.9" x2="142.3" y2="2064.9" stroke="#000" stroke-width="3"/>
<text transform="translate(107.5,2085.9) scale(1,1.055)" class="tk" font-size="41" text-anchor="end">0%</text>
<line x1="955.4" y1="1767.3" x2="964" y2="1767.3" stroke="#000" stroke-width="3"/>
<text transform="translate(975,1788.3) scale(1,1.055)" class="tk" font-size="41">8</text>
<line x1="955.4" y1="1834.9" x2="964" y2="1834.9" stroke="#000" stroke-width="3"/>
<text transform="translate(975,1855.9) scale(1,1.055)" class="tk" font-size="41">6</text>
<line x1="955.4" y1="1902.6" x2="964" y2="1902.6" stroke="#000" stroke-width="3"/>
<text transform="translate(975,1923.6) scale(1,1.055)" class="tk" font-size="41">4</text>
<line x1="955.4" y1="1970.2" x2="964" y2="1970.2" stroke="#000" stroke-width="3"/>
<text transform="translate(975,1991.2) scale(1,1.055)" class="tk" font-size="41">2</text>
<line x1="955.4" y1="2037.8" x2="964" y2="2037.8" stroke="#000" stroke-width="3"/>
<text transform="translate(975,2058.8) scale(1,1.055)" class="tk" font-size="41">0</text>
<text transform="translate(381.3,1989.0) scale(1,1.08)" font-size="32" text-anchor="middle" fill="#000">a</text>
<text transform="translate(454.1,1998.6) scale(1,1.08)" font-size="32" text-anchor="middle" fill="#000">bc</text>
<text transform="translate(512.2,2002.7) scale(1,1.08)" font-size="32" text-anchor="middle" fill="#000">ab</text>
<text transform="translate(579.6,2002.7) scale(1,1.08)" font-size="32" text-anchor="middle" fill="#000">ab</text>
<text transform="translate(715.8,2003.0) scale(1,1.08)" font-size="32" text-anchor="middle" fill="#000">c</text>
<text transform="translate(782.9,1935.3) scale(1,1.08)" font-size="32" text-anchor="middle" fill="#000">d</text>
<text transform="translate(846.5,1925.1) scale(1,1.08)" font-size="32" text-anchor="middle" fill="#000">d</text>
<polyline points="380.5,2025.0 448.3,2030.5 515.4,2029.1 580.0,2029.1 715.5,2034.4 778.7,1997.1 847.3,1985.3" fill="none" stroke="#000" stroke-width="3.8" stroke-linejoin="round"/>
<line x1="380.5" y1="2012.5" x2="380.5" y2="2036.5" stroke="#000" stroke-width="4.2"/>
<line x1="373.7" y1="2012.5" x2="387.3" y2="2012.5" stroke="#000" stroke-width="4.2"/>
<line x1="373.7" y1="2036.5" x2="387.3" y2="2036.5" stroke="#000" stroke-width="4.2"/>
<circle cx="380.5" cy="2025.0" r="13" fill="#000"/>
<circle cx="448.3" cy="2030.5" r="13" fill="#000"/>
<circle cx="515.4" cy="2029.1" r="13" fill="#000"/>
<circle cx="580.0" cy="2029.1" r="13" fill="#000"/>
<circle cx="715.5" cy="2034.4" r="13" fill="#000"/>
<line x1="778.7" y1="1959.2" x2="778.7" y2="2034.4" stroke="#000" stroke-width="4.2"/>
<line x1="771.9000000000001" y1="1959.2" x2="785.5" y2="1959.2" stroke="#000" stroke-width="4.2"/>
<line x1="771.9000000000001" y1="2034.4" x2="785.5" y2="2034.4" stroke="#000" stroke-width="4.2"/>
<circle cx="778.7" cy="1997.1" r="13" fill="#000"/>
<line x1="847.3" y1="1941.2" x2="847.3" y2="2024.2" stroke="#000" stroke-width="4.2"/>
<line x1="840.5" y1="1941.2" x2="854.0999999999999" y2="1941.2" stroke="#000" stroke-width="4.2"/>
<line x1="840.5" y1="2024.2" x2="854.0999999999999" y2="2024.2" stroke="#000" stroke-width="4.2"/>
<circle cx="847.3" cy="1985.3" r="13" fill="#000"/>
<line x1="180.9" y1="2077.4" x2="180.9" y2="2091.5" stroke="#000" stroke-width="3"/>
<line x1="249.9" y1="2077.4" x2="249.9" y2="2091.5" stroke="#000" stroke-width="3"/>
<line x1="316.4" y1="2077.4" x2="316.4" y2="2091.5" stroke="#000" stroke-width="3"/>
<line x1="379.0" y1="2077.4" x2="379.0" y2="2091.5" stroke="#000" stroke-width="3"/>
<line x1="448.2" y1="2077.4" x2="448.2" y2="2091.5" stroke="#000" stroke-width="3"/>
<line x1="515.3" y1="2077.4" x2="515.3" y2="2091.5" stroke="#000" stroke-width="3"/>
<line x1="579.5" y1="2077.4" x2="579.5" y2="2091.5" stroke="#000" stroke-width="3"/>
<line x1="646.7" y1="2077.4" x2="646.7" y2="2091.5" stroke="#000" stroke-width="3"/>
<line x1="713.8" y1="2077.4" x2="713.8" y2="2091.5" stroke="#000" stroke-width="3"/>
<line x1="778.2" y1="2077.4" x2="778.2" y2="2091.5" stroke="#000" stroke-width="3"/>
<line x1="847.4" y1="2077.4" x2="847.4" y2="2091.5" stroke="#000" stroke-width="3"/>
<line x1="914.6" y1="2077.4" x2="914.6" y2="2091.5" stroke="#000" stroke-width="3"/>
<text transform="translate(196.7,2117) rotate(-90) scale(1,1.045)" class="xl" font-size="41" text-anchor="end">Jan</text>
<text transform="translate(265.7,2117) rotate(-90) scale(1,1.045)" class="xl" font-size="41" text-anchor="end">Feb</text>
<text transform="translate(332.2,2117) rotate(-90) scale(1,1.045)" class="xl" font-size="41" text-anchor="end">Mar</text>
<text transform="translate(394.8,2117) rotate(-90) scale(1,1.045)" class="xl" font-size="41" text-anchor="end">Apr</text>
<text transform="translate(464.0,2117) rotate(-90) scale(1,1.045)" class="xl" font-size="41" text-anchor="end">May</text>
<text transform="translate(531.1,2117) rotate(-90) scale(1,1.045)" class="xl" font-size="41" text-anchor="end">Jun</text>
<text transform="translate(595.3,2117) rotate(-90) scale(1,1.045)" class="xl" font-size="41" text-anchor="end">Jul</text>
<text transform="translate(662.5,2117) rotate(-90) scale(1,1.045)" class="xl" font-size="41" text-anchor="end">Aug</text>
<text transform="translate(729.6,2117) rotate(-90) scale(1,1.045)" class="xl" font-size="41" text-anchor="end">Sep</text>
<text transform="translate(794.0,2117) rotate(-90) scale(1,1.045)" class="xl" font-size="41" text-anchor="end">Oct</text>
<text transform="translate(863.2,2117) rotate(-90) scale(1,1.045)" class="xl" font-size="41" text-anchor="end">Nov</text>
<text transform="translate(930.4,2117) rotate(-90) scale(1,1.045)" class="xl" font-size="41" text-anchor="end">Dec</text>
<text transform="translate(1019.9,1228.5) rotate(90)" font-size="50.8" letter-spacing="-0.55" text-anchor="middle" fill="#000">Gonadosomatic<tspan dx="-3.5"> index</tspan><tspan dx="3"> (GSI)</tspan></text>
</svg>
</body></html>
